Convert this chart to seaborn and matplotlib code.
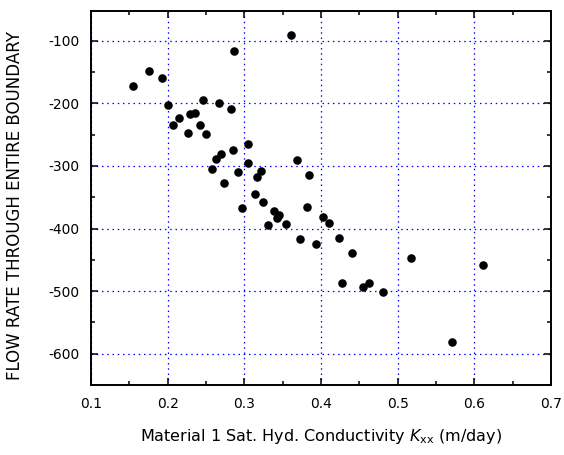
import numpy as np
import pandas as pd
import matplotlib
matplotlib.use("Agg")
import matplotlib.pyplot as plt
from matplotlib.ticker import MultipleLocator
import seaborn as sns

# Saturated hydraulic conductivity of material 1 (m/day)
kxx = [0.1544, 0.1750, 0.1927, 0.1998, 0.2070, 0.2148, 0.2259, 0.2286, 0.2358, 0.2419,
       0.2457, 0.2497, 0.2578, 0.2630, 0.2669, 0.2698, 0.2739, 0.2820, 0.2848, 0.2869,
       0.2921, 0.2976, 0.3054, 0.3052, 0.3139, 0.3161, 0.3216, 0.3247, 0.3310, 0.3387,
       0.3446, 0.3430, 0.3539, 0.3606, 0.3683, 0.3730, 0.3811, 0.3841, 0.3940, 0.4025,
       0.4107, 0.4235, 0.4406, 0.4270, 0.4554, 0.4630, 0.4810, 0.5170, 0.5705, 0.6117]

# Flow rate through the entire boundary
flow = [-172.3, -148.5, -160.0, -202.1, -234.0, -223.0, -247.1, -216.6, -215.4, -234.0,
        -195.4, -248.7, -304.7, -289.3, -198.9, -281.3, -327.7, -209.5, -274.9, -116.6,
        -310.3, -367.8, -265.6, -295.6, -344.8, -318.0, -307.4, -357.9, -394.6, -371.7,
        -377.7, -384.0, -393.5, -91.2, -290.0, -416.9, -365.0, -315.1, -424.6, -382.4,
        -390.4, -415.0, -438.6, -487.1, -492.7, -486.6, -501.2, -447.1, -581.3, -458.2]

x_ticks = [0.1, 0.2, 0.3, 0.4, 0.5, 0.6, 0.7]
y_ticks = [-600, -500, -400, -300, -200, -100]

df = pd.DataFrame({"kxx": kxx, "flow": flow})

sns.set_style("ticks")
plt.rcParams["font.family"] = ["DejaVu Sans"]
plt.rcParams["mathtext.fontset"] = "dejavusans"
plt.rcParams["text.color"] = "black"
plt.rcParams["axes.labelcolor"] = "black"

fig = plt.figure(figsize=(5.64, 4.55), dpi=100)
ax = fig.add_axes([91 / 564, 1 - 385 / 455, (551 - 91) / 564, (385 - 11) / 455])

sns.scatterplot(data=df, x="kxx", y="flow", ax=ax, color="black",
                edgecolor="black", linewidth=0, s=38, zorder=3, legend=False)

ax.set_xlim(0.1, 0.7)
ax.set_ylim(-650, -52.5)
ax.set_xticks(x_ticks)
ax.set_xticklabels([f"{t:.1f}" for t in x_ticks])
ax.set_yticks(y_ticks)
ax.set_yticklabels([str(t) for t in y_ticks])
ax.xaxis.set_minor_locator(MultipleLocator(0.05))
ax.yaxis.set_minor_locator(MultipleLocator(50))

ax.grid(True, which="major", color="#0000ff", linestyle=(0, (1.2, 3)), linewidth=0.9)
ax.set_axisbelow(True)

for side in ["left", "right", "top", "bottom"]:
    ax.spines[side].set_visible(True)
    ax.spines[side].set_linewidth(1.4)
    ax.spines[side].set_color("black")

ax.tick_params(which="both", direction="in", top=True, right=True,
               labelsize=10, colors="black", labelcolor="black", width=1.1)
ax.tick_params(which="major", length=5)
ax.tick_params(which="minor", length=3)
ax.tick_params(axis="y", which="major", pad=8)
ax.tick_params(axis="x", which="major", pad=9)

ax.set_xlabel(r"Material 1 Sat. Hyd. Conductivity $K_{\mathrm{xx}}$ (m/day)",
              fontsize=11.5, labelpad=11, color="black")
ax.set_ylabel("FLOW RATE THROUGH ENTIRE BOUNDARY", fontsize=12, color="black")
ax.yaxis.set_label_coords(-67 / 460, 0.481)

fig.savefig("out.png", dpi=100, facecolor="white")
